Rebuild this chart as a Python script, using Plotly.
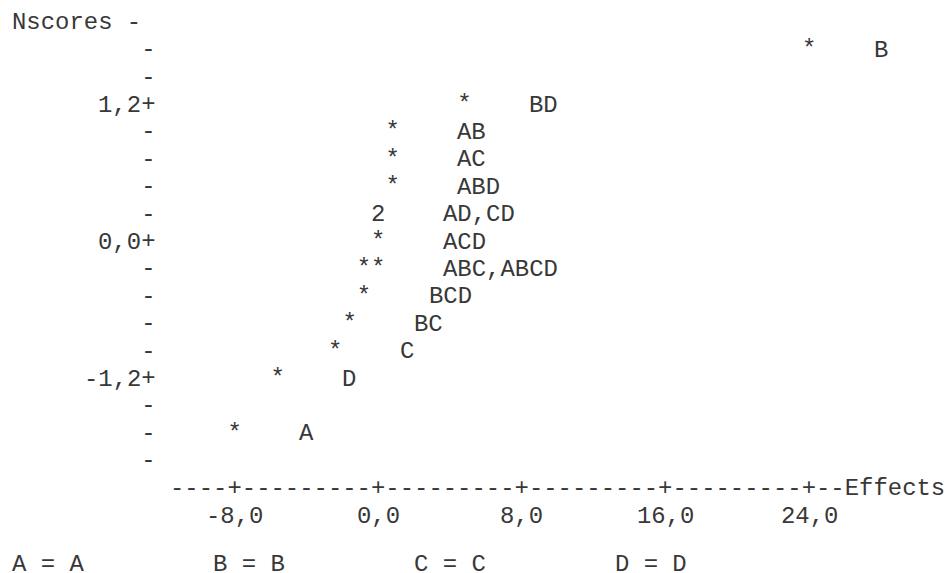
import plotly.graph_objects as go

# ---- data ----
effect_names = ["A", "D", "C", "BC", "BCD", "ABC", "ABCD", "ACD", "AD", "CD", "ABD", "AC", "AB", "BD", "B"]
effects = [-8.0, -5.6, -2.4, -1.6, -0.8, -0.8, 0.0, 0.0, 0.0, 0.0, 0.8, 0.8, 0.8, 4.8, 24.0]
nscores = [-1.68, -1.20, -0.96, -0.72, -0.48, -0.24, -0.24, 0.0, 0.24, 0.24, 0.48, 0.72, 0.96, 1.20, 1.68]

x_ticks = [-8, 0, 8, 16, 24]
x_tick_labels = ["-8,0", "0,0", "8,0", "16,0", "24,0"]
y_ticks = [1.2, 0.0, -1.2]
y_tick_labels = ["1,2", "0,0", "-1,2"]
factor_letters = ["A", "B", "C", "D"]
factor_names = ["A", "B", "C", "D"]

# ---- character grid styling ----
FONT = dict(family="Liberation Mono, Courier New, monospace", size=23.93, color="#383838")
COL = 0.8    # effect units per character column
ROW = 0.24   # nscore units per text line
W, H = 949, 573
x_range = [-21.075, 31.794]
y_range = [-2.898, 2.1206]

fig = go.Figure()

# group points sharing a character cell
cells = {}
for n, x, y in zip(effect_names, effects, nscores):
    cells.setdefault((x, y), []).append(n)
cx = [k[0] for k in cells]
cy = [k[1] for k in cells]
glyph = ["*" if len(v) == 1 else str(len(v)) for v in cells.values()]

fig.add_trace(go.Scatter(x=cx, y=cy, mode="text", text=glyph, textposition="middle center",
                         textfont=FONT, hoverinfo="skip", showlegend=False))

# row labels, five columns to the right of the last symbol in the row
rows = {}
for n, x, y in zip(effect_names, effects, nscores):
    r = rows.setdefault(y, [x, []])
    r[0] = max(r[0], x)
    r[1].append(n)

ann = []
def txt(x, y, s, xa="left", xshift=0, yshift=0):
    ann.append(dict(x=x, y=y, xref="x", yref="y", text=s, showarrow=False, xanchor=xa,
                    yanchor="middle", font=FONT, xshift=xshift, yshift=yshift))

for y, (xmax, names) in rows.items():
    txt(xmax + 5 * COL - COL / 2, y, ",".join(names), "left", -2)

# vertical axis built from characters
axis_x = x_ticks[0] - 6 * COL
y_top = max(nscores)
y_bottom = min(nscores) - ROW
k = 0
ys, marks = [], []
while y_top - k * ROW > y_bottom - 1e-9:
    yv = round(y_top - k * ROW, 2)
    ys.append(yv)
    marks.append("+" if any(abs(yv - t) < 1e-9 for t in y_ticks) else "-")
    k += 1
fig.add_trace(go.Scatter(x=[axis_x] * len(ys), y=ys, mode="text", text=marks,
                         textposition="middle center", textfont=FONT,
                         hoverinfo="skip", showlegend=False))
for t, lab in zip(y_ticks, y_tick_labels):
    txt(axis_x - COL / 2, t, lab, "right", 2)

# "Nscores -" title line
txt(axis_x - COL / 2, y_top + ROW, "Nscores -", "right", 2)

# horizontal axis line
axis_y = y_bottom - ROW
line = "----+" + "---------+" * (len(x_ticks) - 1) + "--Effects"
txt(x_ticks[0] - 4 * COL - COL / 2, axis_y, line, "left", -2)
for t, lab in zip(x_ticks, x_tick_labels):
    txt(t, axis_y - ROW, lab, "center", 0)

# factor legend line
legend_line = (" " * 9).join(f"{a} = {b}" for a, b in zip(factor_letters, factor_names))
txt(axis_x - 9 * COL - COL / 2, axis_y - 3 * ROW, legend_line, "left", -2, 6)

fig.update_layout(
    width=W, height=H, margin=dict(l=0, r=0, t=0, b=0),
    paper_bgcolor="white", plot_bgcolor="white",
    xaxis=dict(range=x_range, visible=False, fixedrange=True),
    yaxis=dict(range=y_range, visible=False, fixedrange=True),
    annotations=ann, showlegend=False,
)
fig.write_html("out.html", config={"displayModeBar": False},
               post_script="document.body.style.margin='0';document.body.style.overflow='hidden';")
